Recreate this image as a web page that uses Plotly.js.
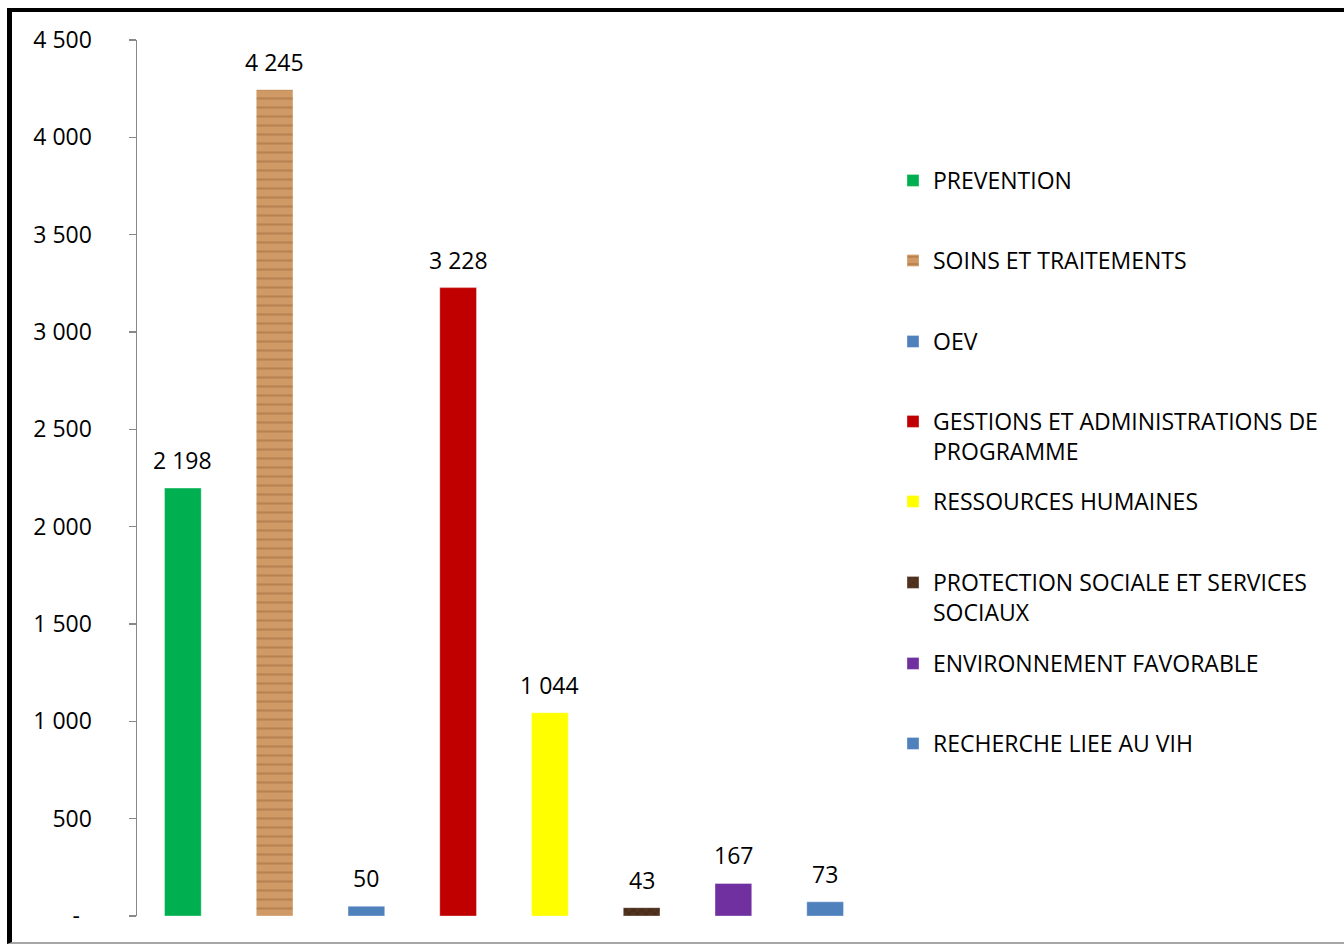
<!DOCTYPE html>
<html>
<head>
<meta charset="utf-8">
<script src="https://cdn.plot.ly/plotly-3.0.1.min.js"></script>
<style>
html,body{margin:0;padding:0;background:#fff;}
#wrap{position:relative;width:1344px;height:944px;overflow:hidden;}
#chart{width:1344px;height:944px;}
#frame{position:absolute;left:7px;top:8px;width:1400px;height:936px;box-sizing:border-box;border-left:5px solid #000;border-top:4px solid #000;border-bottom:2px solid #a6a6a6;pointer-events:none;}
</style>
</head>
<body>
<div id="wrap"><div id="chart"></div><div id="frame"></div></div>
<script>
const categories = ["PREVENTION", "SOINS ET TRAITEMENTS", "OEV", "GESTIONS ET ADMINISTRATIONS DE PROGRAMME", "RESSOURCES HUMAINES", "PROTECTION SOCIALE ET SERVICES SOCIAUX", "ENVIRONNEMENT FAVORABLE", "RECHERCHE LIEE AU VIH"];
const legendLabels = ["PREVENTION", "SOINS ET TRAITEMENTS", "OEV", "GESTIONS ET ADMINISTRATIONS DE<br>PROGRAMME", "RESSOURCES HUMAINES", "PROTECTION SOCIALE ET SERVICES<br>SOCIAUX", "ENVIRONNEMENT FAVORABLE", "RECHERCHE LIEE AU VIH"];
const values = [2198, 4245, 50, 3228, 1044, 43, 167, 73];
const tickValues = [0, 500, 1000, 1500, 2000, 2500, 3000, 3500, 4000, 4500];
const tickLabels = ["-\u00a0\u00a0", "500", "1 000", "1 500", "2 000", "2 500", "3 000", "3 500", "4 000", "4 500"];
const colors = ["#00B050", "#C98F5B", "#4F81BD", "#C00000", "#FFFF00", "#4B2E1E", "#7030A0", "#4F81BD"];
// legend item centre rows (pixel y) - layout only
const legendRows = [180, 260, 341, 421, 501, 582, 663, 743];

const FONT = "'Open Sans', 'Noto Sans', sans-serif";
const FS = 23;
const L = 137, R = 871, T = 40, B = 916;
const W = 1344, H = 944;
const px2x = p => (p - L) / (R - L);
const py2y = p => (B - p) / (B - T);

function fmt(v) { return String(v).replace(/\B(?=(\d{3})+(?!\d))/g, " "); }

const traces = categories.map((c, i) => {
  const t = {
    type: "bar",
    x: [c],
    y: [values[i]],
    name: legendLabels[i],
    marker: { color: colors[i], line: { color: "rgba(255,255,255,0.35)", width: 1 } },
    showlegend: true,
    legend: i === 0 ? "legend" : "legend" + (i + 1),
    hoverinfo: "x+y"
  };
  if (i === 1) {
    t.marker.pattern = { shape: "-", fgcolor: "#9C6636", fgopacity: 0.45, size: 9, solidity: 0.25, bgcolor: "#CF9A66" };
  }
  if (i === 5) {
    t.marker.pattern = { shape: "x", fgcolor: "#2E1A10", fgopacity: 0.4, size: 6, solidity: 0.3, bgcolor: "#52331F" };
  }
  return t;
});

const annotations = categories.map((c, i) => ({
  x: c, y: values[i], xref: "x", yref: "y",
  text: fmt(values[i]), showarrow: false,
  yanchor: "bottom", yshift: 10,
  font: { family: FONT, size: FS, color: "#000" }
}));

const layout = {
  width: W, height: H,
  margin: { l: L, r: W - R, t: T, b: H - B, pad: 0 },
  paper_bgcolor: "#fff", plot_bgcolor: "#fff",
  barmode: "overlay",
  bargap: 0.6,
  font: { family: FONT, size: FS, color: "#000" },
  xaxis: { type: "category", showticklabels: false, showline: false, showgrid: false, zeroline: false, ticks: "", fixedrange: true },
  yaxis: {
    range: [0, 4500], tickmode: "array", tickvals: tickValues, ticktext: tickLabels,
    showline: true, linecolor: "#888888", linewidth: 1.5,
    ticks: "outside", ticklen: 7, tickcolor: "#888888", tickwidth: 1.5,
    showgrid: false, zeroline: false,
    ticklabelstandoff: 32,
    tickfont: { family: FONT, size: FS, color: "#000" },
    fixedrange: true
  },
  annotations: annotations,
  showlegend: true
};

legendRows.forEach((row, i) => {
  const key = i === 0 ? "legend" : "legend" + (i + 1);
  layout[key] = {
    x: px2x(893), xanchor: "left",
    y: py2y(row - 21), yanchor: "top",
    bgcolor: "rgba(0,0,0,0)", borderwidth: 0,
    valign: "top",
    font: { family: FONT, size: FS, color: "#000" },
    itemclick: false, itemdoubleclick: false
  };
});

Plotly.newPlot("chart", traces, layout, { displayModeBar: false, staticPlot: true });
</script>
</body>
</html>
